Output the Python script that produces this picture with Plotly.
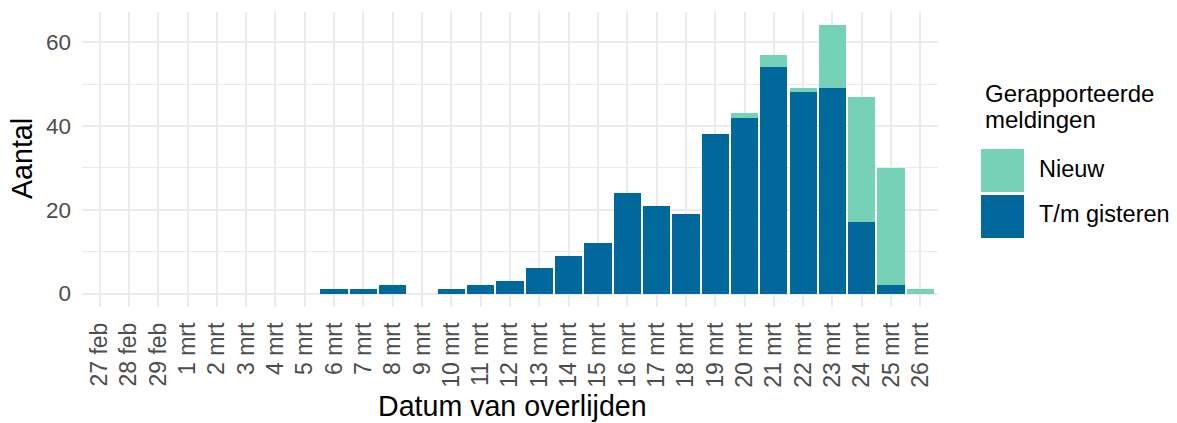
import plotly.graph_objects as go

dates = ["27 feb", "28 feb", "29 feb"] + [f"{d} mrt" for d in range(1, 27)]
tm_gisteren = [0, 0, 0, 0, 0, 0, 0, 0, 1, 1, 2, 0, 1, 2, 3, 6, 9, 12, 24, 21, 19, 38, 42, 54, 48, 49, 17, 2, 0]
nieuw = [0, 0, 0, 0, 0, 0, 0, 0, 0, 0, 0, 0, 0, 0, 0, 0, 0, 0, 0, 0, 0, 0, 1, 3, 1, 15, 30, 28, 1]
colors = {"Nieuw": "#76D2B6", "T/m gisteren": "#01689B"}
legend_title_lines = ["Gerapporteerde", "meldingen"]
y_ticks = [0, 20, 40, 60]
x_title = "Datum van overlijden"
y_title = "Aantal"

FONT = "Liberation Sans, Arial, sans-serif"

fig = go.Figure()
fig.add_trace(go.Bar(x=dates, y=tm_gisteren, name="T/m gisteren",
                     marker=dict(color=colors["T/m gisteren"], line=dict(width=0))))
fig.add_trace(go.Bar(x=dates, y=nieuw, name="Nieuw",
                     marker=dict(color=colors["Nieuw"], line=dict(width=0))))

L, R, T, B = 82, 239, 12, 116
W, H = 1177, 423
pw, ph = W - L - R, H - T - B


def px_x(px):
    return (px - L) / pw


def px_y(py):
    return (H - B - py) / ph


shapes = []
annotations = []
# axis titles
annotations.append(dict(text=x_title, x=px_x(512), y=px_y(406), xref="paper", yref="paper",
                        xanchor="center", yanchor="middle", showarrow=False,
                        font=dict(family=FONT, size=28.6, color="#000000")))
annotations.append(dict(text=y_title, x=px_x(22), y=px_y(159), xref="paper", yref="paper",
                        xanchor="center", yanchor="middle", showarrow=False, textangle=-90,
                        font=dict(family=FONT, size=28.6, color="#000000")))
# custom legend
for i, line in enumerate(legend_title_lines):
    annotations.append(dict(text=line, x=px_x(983), y=px_y(94 + 25 * i), xref="paper", yref="paper",
                            xanchor="left", yanchor="middle", showarrow=False,
                            font=dict(family=FONT, size=24, color="#000000")))
keys = [("Nieuw", 149, 192), ("T/m gisteren", 195, 238)]
for name, y0, y1 in keys:
    shapes.append(dict(type="rect", xref="paper", yref="paper",
                       x0=px_x(981), x1=px_x(1024), y0=px_y(y1), y1=px_y(y0),
                       fillcolor=colors[name], line=dict(width=0)))
    annotations.append(dict(text=name, x=px_x(1037), y=px_y((y0 + y1) / 2 - 2), xref="paper", yref="paper",
                            xanchor="left", yanchor="middle", showarrow=False,
                            font=dict(family=FONT, size=23.5, color="#000000")))

fig.update_layout(
    width=W, height=H,
    barmode="stack", bargap=0.07,
    showlegend=False,
    plot_bgcolor="white", paper_bgcolor="white",
    margin=dict(l=L, r=R, t=T, b=B, pad=0, autoexpand=False),
    font=dict(family=FONT),
    shapes=shapes, annotations=annotations,
    xaxis=dict(
        type="category", range=[-0.6, len(dates) - 0.4], automargin=False,
        tickangle=-90, ticks="", ticklabelstandoff=10,
        tickfont=dict(family=FONT, size=23, color="#4D4D4D"),
        showgrid=True, gridcolor="#EBEBEB", gridwidth=2,
        zeroline=False, showline=False,
    ),
    yaxis=dict(
        range=[-3.2, 67.2], tickvals=y_ticks, ticks="", ticklabelstandoff=10, automargin=False,
        tickfont=dict(family=FONT, size=22.5, color="#4D4D4D"),
        showgrid=True, gridcolor="#EBEBEB", gridwidth=2,
        minor=dict(dtick=10, tick0=0, showgrid=True, gridcolor="#EBEBEB", gridwidth=1),
        zeroline=False, showline=False,
    ),
)

fig.write_html("out.html", config={"displayModeBar": False},
               post_script="document.body.style.margin='0';document.body.style.overflow='hidden';")
